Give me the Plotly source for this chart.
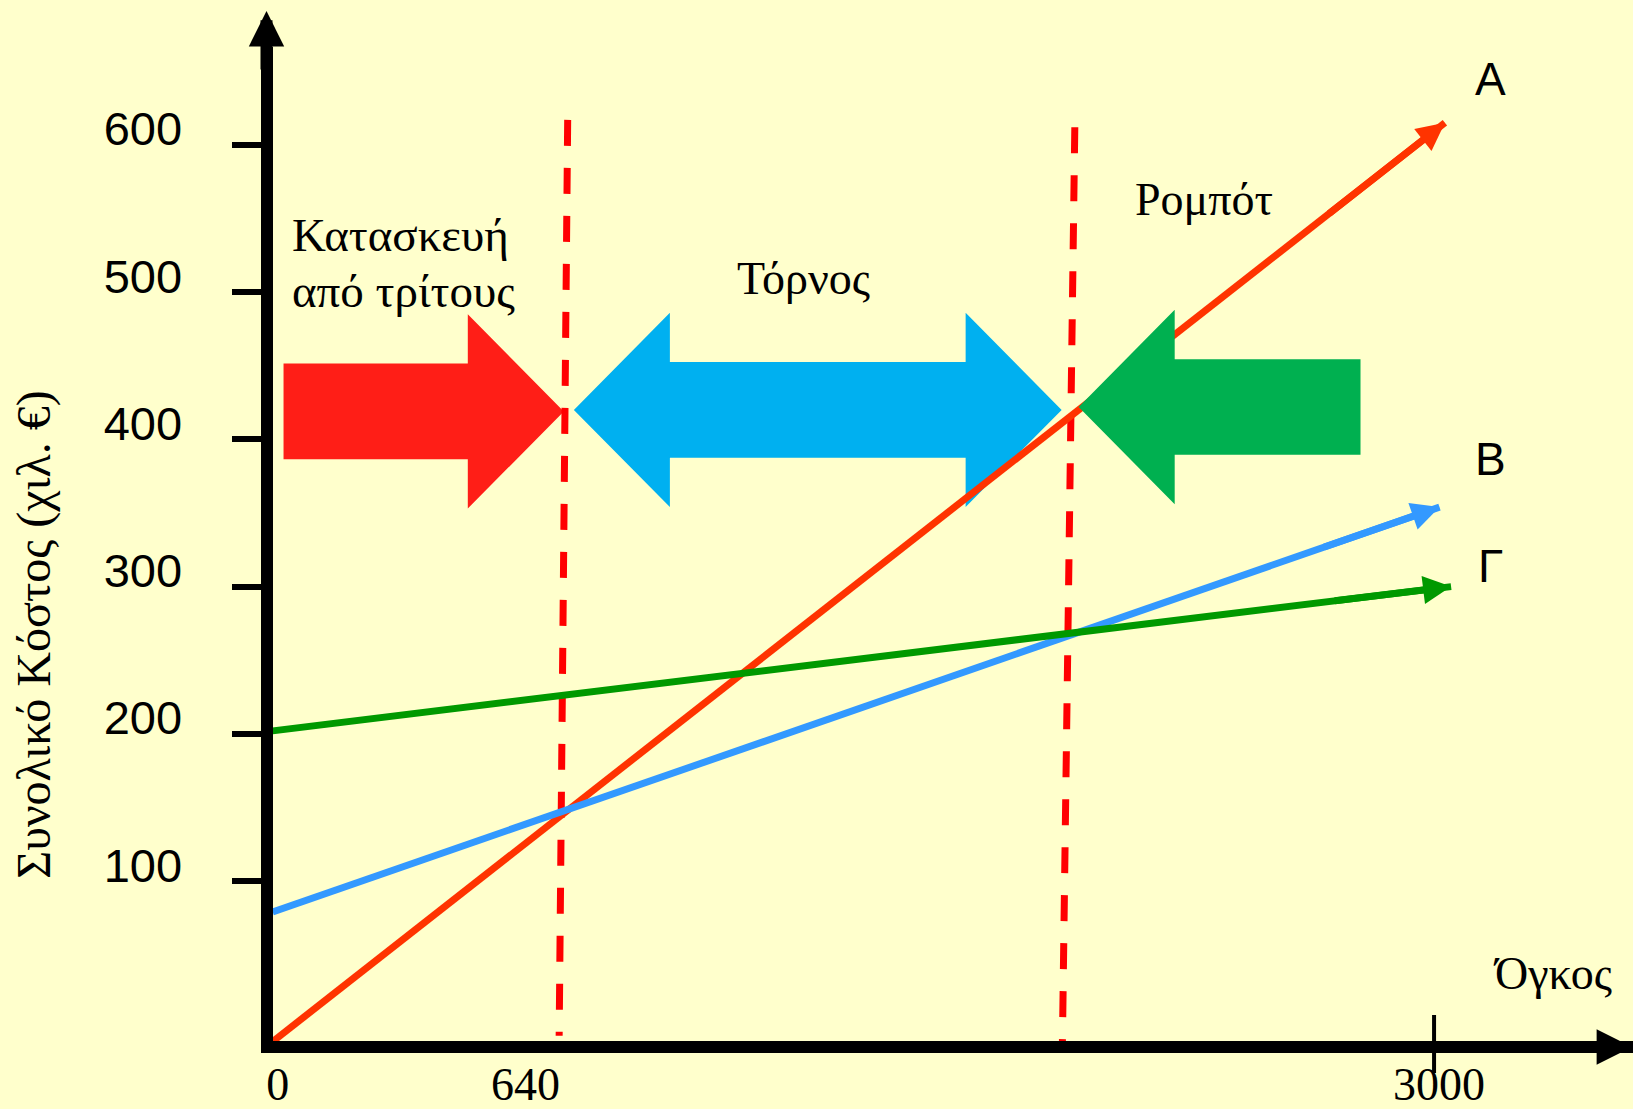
import plotly.graph_objects as go

# ---------------- data ----------------
volume_tickvals = [0, 640, 3000]
volume_ticktext = ["0", "640", "3000"]
cost_tickvals = [100, 200, 300, 400, 500, 600]
cost_ticktext = ["100", "200", "300", "400", "500", "600"]

series_names = ["Α", "Β", "Γ"]
a_volume = [0, 3028]
a_cost = [-9, 615]
b_volume = [0, 3014]
b_cost = [79, 354]
g_volume = [0, 3044]
g_cost = [202, 300]

split1_volume = [762, 740]
split1_cost = [617, -5]
split2_volume = [2072, 2040]
split2_cost = [612, -9]

third_party_range = [28, 752]
lathe_range = [778, 2038]
robot_range = [2082, 2810]
region_arrow_cost = [419, 420, 422]

region_label_1 = ["Κατασκευή", "από τρίτους"]
region_label_2 = "Τόρνος"
region_label_3 = "Ρομπότ"
x_title = "Όγκος"
y_title = "Συνολικό Κόστος (χιλ. €)"

# ---------------- styling ----------------
BG = "#FFFFCC"
SERIF = "Liberation Serif, Times New Roman, serif"
SANS = "Liberation Sans, Arial, sans-serif"
W, H = 1633, 1109
series_colors = ["#FF3300", "#3399FF", "#009900"]

SHAFT = 32.5      # half-height of block arrow shaft (cost units)
HEAD = 66         # half-height of block arrow head
HEAD_LEN = 248    # head length (volume units)


def right_arrow(x0, x1, yc):
    xb = x1 - HEAD_LEN
    return (f"M{x0},{yc - SHAFT} L{xb},{yc - SHAFT} L{xb},{yc - HEAD} L{x1},{yc} "
            f"L{xb},{yc + HEAD} L{xb},{yc + SHAFT} L{x0},{yc + SHAFT} Z")


def left_arrow(x0, x1, yc):
    xb = x0 + HEAD_LEN
    return (f"M{x1},{yc - SHAFT} L{xb},{yc - SHAFT} L{xb},{yc - HEAD} L{x0},{yc} "
            f"L{xb},{yc + HEAD} L{xb},{yc + SHAFT} L{x1},{yc + SHAFT} Z")


def double_arrow(x0, x1, yc):
    xl = x0 + HEAD_LEN
    xr = x1 - HEAD_LEN
    return (f"M{x0},{yc} L{xl},{yc + HEAD} L{xl},{yc + SHAFT} L{xr},{yc + SHAFT} "
            f"L{xr},{yc + HEAD} L{x1},{yc} L{xr},{yc - HEAD} L{xr},{yc - SHAFT} "
            f"L{xl},{yc - SHAFT} L{xl},{yc - HEAD} Z")


fig = go.Figure()

# dashed boundaries
for xs, ys in [(split1_volume, split1_cost), (split2_volume, split2_cost)]:
    fig.add_trace(go.Scatter(x=xs, y=ys, mode="lines", cliponaxis=False,
                             line=dict(color="#FF0000", width=7, dash="26px,22px"),
                             hoverinfo="skip", showlegend=False))

# cost lines
for name, xs, ys, col in zip(series_names, [a_volume, b_volume, g_volume],
                             [a_cost, b_cost, g_cost], series_colors):
    fig.add_trace(go.Scatter(x=xs, y=ys, mode="lines", name=name, cliponaxis=False,
                             line=dict(color=col, width=7, backoff=14),
                             showlegend=False))

shapes = [
    dict(type="path", xref="x", yref="y", layer="below",
         path=right_arrow(third_party_range[0], third_party_range[1], region_arrow_cost[0]),
         fillcolor="#FF1E17", line=dict(width=0)),
    dict(type="path", xref="x", yref="y", layer="below",
         path=double_arrow(lathe_range[0], lathe_range[1], region_arrow_cost[1]),
         fillcolor="#00B0F0", line=dict(width=0)),
    dict(type="path", xref="x", yref="y", layer="above",
         path=left_arrow(robot_range[0], robot_range[1], region_arrow_cost[2]),
         fillcolor="#00B050", line=dict(width=0)),
    # tick mark at 3000
    dict(type="line", xref="x", yref="paper", x0=volume_tickvals[-1], x1=volume_tickvals[-1],
         y0=1 - 1073 / H, y1=1 - 1015 / H, line=dict(color="black", width=4)),
]

annotations = []
# arrow heads of the cost lines
for xs, ys, col in zip([a_volume, b_volume, g_volume], [a_cost, b_cost, g_cost], series_colors):
    annotations.append(dict(
        x=xs[-1], y=ys[-1], xref="x", yref="y",
        ax=xs[0] + 0.9 * (xs[-1] - xs[0]), ay=ys[0] + 0.9 * (ys[-1] - ys[0]),
        axref="x", ayref="y", text="", showarrow=True,
        arrowhead=2, arrowwidth=7, arrowsize=0.8, arrowcolor=col, standoff=0))

# series labels
label_pos = [(3145, 645), (3145, 387), (3145, 314)]
for name, (lx, ly) in zip(series_names, label_pos):
    annotations.append(dict(x=lx, y=ly, xref="x", yref="y", text=name, showarrow=False,
                            font=dict(family=SANS, size=46, color="black")))

# region texts
annotations += [
    dict(x=44, y=539, xref="x", yref="y", text=region_label_1[0], showarrow=False,
         xanchor="left", font=dict(family=SERIF, size=47, color="black")),
    dict(x=44, y=501, xref="x", yref="y", text=region_label_1[1], showarrow=False,
         xanchor="left", font=dict(family=SERIF, size=47, color="black")),
    dict(x=1370, y=509, xref="x", yref="y", text=region_label_2, showarrow=False,
         font=dict(family=SERIF, size=46, color="black")),
    dict(x=2405, y=563, xref="x", yref="y", text=region_label_3, showarrow=False,
         font=dict(family=SERIF, size=46, color="black")),
    dict(x=3306, y=37, xref="x", yref="y", text=x_title, showarrow=False,
         font=dict(family=SERIF, size=46, color="black")),
    dict(x=33.8 / W, y=1 - 635 / H, xref="paper", yref="paper", text=y_title,
         xanchor="center", yanchor="middle",
         textangle=-90, showarrow=False, font=dict(family=SERIF, size=48, color="black")),
    # axis arrow heads
    dict(x=266.5 / W, y=1 - 11 / H, xref="paper", yref="paper", ax=0, ay=60,
         text="", showarrow=True, arrowhead=2, arrowwidth=12, arrowsize=0.59,
         arrowcolor="black", standoff=0),
    dict(x=1645 / W, y=1 - 1047 / H, xref="paper", yref="paper", ax=-60, ay=0,
         text="", showarrow=True, arrowhead=2, arrowwidth=12, arrowsize=0.59,
         arrowcolor="black", standoff=0),
]

fig.update_layout(
    width=W, height=H,
    margin=dict(l=0, r=0, t=0, b=0, autoexpand=False),
    paper_bgcolor=BG, plot_bgcolor=BG,
    showlegend=False,
    shapes=shapes,
    annotations=annotations,
    xaxis=dict(range=[-0.5, 3513.9], domain=[272.5 / W, 1], automargin=False,
               showline=True, linewidth=12, linecolor="black",
               ticks="", tickvals=volume_tickvals, ticktext=volume_ticktext,
               tickfont=dict(family=SERIF, size=46, color="black"),
               ticklabelshift=5, ticklabelstandoff=-8,
               showgrid=False, zeroline=False, fixedrange=True),
    yaxis=dict(range=[-8.63, 666.7], domain=[1 - 1041 / H, 1 - 46.7 / H], automargin=False,
               showline=True, linewidth=12, linecolor="black",
               ticks="outside", ticklen=29, tickwidth=6, tickcolor="black",
               tickvals=cost_tickvals, ticktext=cost_ticktext,
               tickfont=dict(family=SANS, size=47, color="black"),
               ticklabelshift=-16, ticklabelstandoff=40,
               showgrid=False, zeroline=False, fixedrange=True),
)

fig.write_html("out.html", config={"displayModeBar": False},
               post_script="document.body.style.margin='0';")
